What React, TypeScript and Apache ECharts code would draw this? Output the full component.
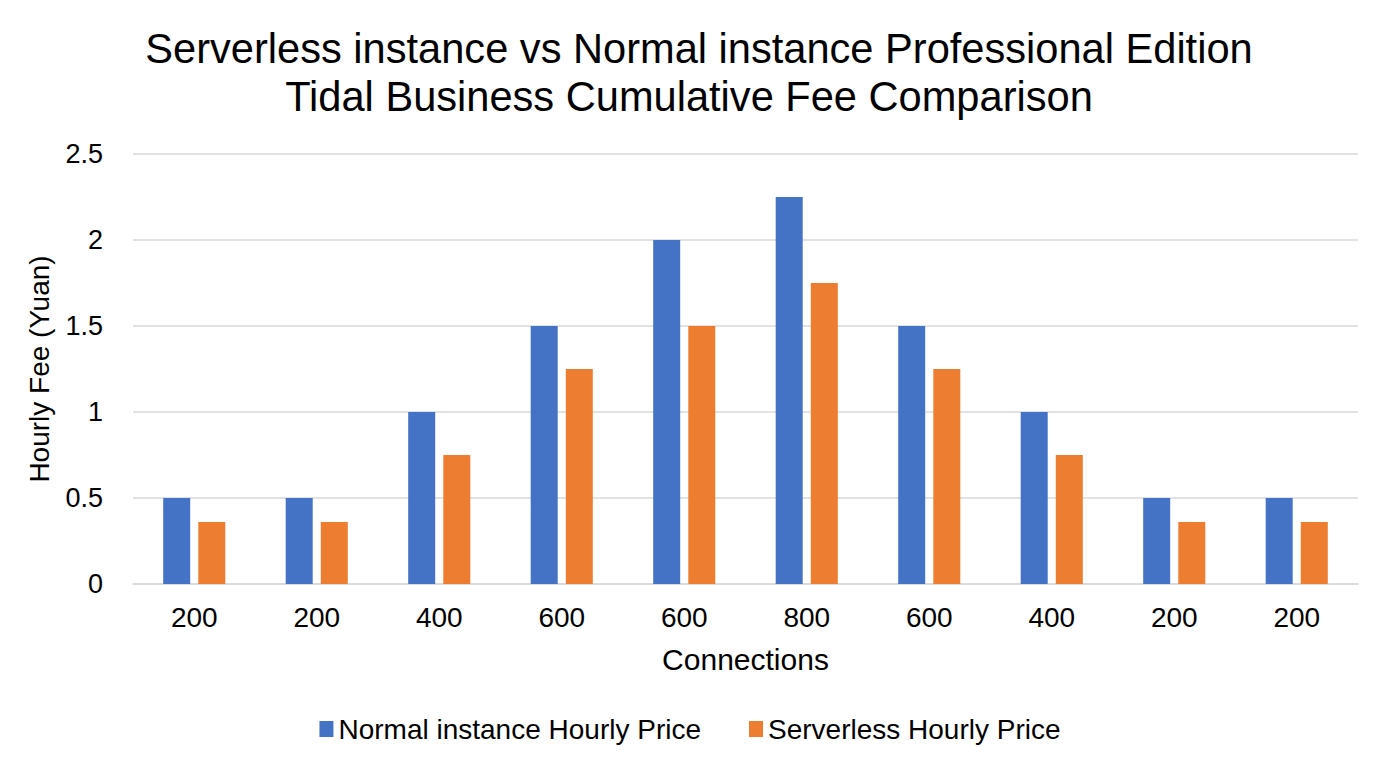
import React, { useEffect, useRef } from "react";
import * as echarts from "echarts";

const titleLine1 = "Serverless instance vs Normal instance Professional Edition";
const titleLine2 = "Tidal Business Cumulative Fee Comparison";
const categories = ["200", "200", "400", "600", "600", "800", "600", "400", "200", "200"];
const normalPrice = [0.5, 0.5, 1, 1.5, 2, 2.25, 1.5, 1, 0.5, 0.5];
const serverlessPrice = [0.36, 0.36, 0.75, 1.25, 1.5, 1.75, 1.25, 0.75, 0.36, 0.36];
const seriesNames = ["Normal instance Hourly Price", "Serverless Hourly Price"];
const xAxisName = "Connections";
const yAxisName = "Hourly Fee (Yuan)";

const FONT = "'Liberation Sans', Arial, sans-serif";

export default function App() {
  const ref = useRef<HTMLDivElement>(null);
  useEffect(() => {
    document.body.style.margin = "0";
    const chart = echarts.init(ref.current!, null, { renderer: "svg" });
    chart.setOption({
      animation: false,
      backgroundColor: "#ffffff",
      textStyle: { fontFamily: FONT },
      title: [
        {
          text: titleLine1,
          left: 694,
          textAlign: "center",
          top: 22,
          textStyle: { fontSize: 41.6, fontWeight: "normal", color: "#000", fontFamily: FONT },
        },
        {
          text: titleLine2,
          left: 684,
          textAlign: "center",
          top: 70,
          textStyle: { fontSize: 41.6, fontWeight: "normal", color: "#000", fontFamily: FONT },
        },
      ],
      legend: {
        bottom: 26,
        left: "center",
        itemWidth: 14,
        itemHeight: 16,
        itemGap: 48,
        icon: "rect",
        textStyle: { fontSize: 28, color: "#000", fontFamily: FONT },
        data: seriesNames,
      },
      grid: { left: 133, right: 22, top: 154, bottom: 190, containLabel: false },
      xAxis: {
        type: "category",
        data: categories,
        name: xAxisName,
        nameLocation: "middle",
        nameGap: 60,
        nameTextStyle: { fontSize: 30, color: "#000", fontFamily: FONT },
        axisLine: { lineStyle: { color: "#d9d9d9", width: 1.5 } },
        axisTick: { show: false },
        axisLabel: { fontSize: 28, color: "#000", margin: 19, fontFamily: FONT },
      },
      yAxis: {
        type: "value",
        min: 0,
        max: 2.5,
        interval: 0.5,
        name: yAxisName,
        nameLocation: "middle",
        nameGap: 80,
        nameTextStyle: { fontSize: 28, color: "#000", fontFamily: FONT },
        axisLine: { show: false },
        axisTick: { show: false },
        axisLabel: { fontSize: 27, color: "#000", margin: 30, fontFamily: FONT },
        splitLine: { lineStyle: { color: "#d9d9d9", width: 1.5 } },
      },
      series: [
        {
          name: seriesNames[0],
          type: "bar",
          data: normalPrice,
          barWidth: 27,
          barGap: "30%",
          itemStyle: { color: "#4472C4" },
        },
        {
          name: seriesNames[1],
          type: "bar",
          data: serverlessPrice,
          barWidth: 27,
          barGap: "30%",
          itemStyle: { color: "#ED7D31" },
        },
      ],
    });
    return () => chart.dispose();
  }, []);
  return <div ref={ref} style={{ width: 1380, height: 774 }} />;
}
